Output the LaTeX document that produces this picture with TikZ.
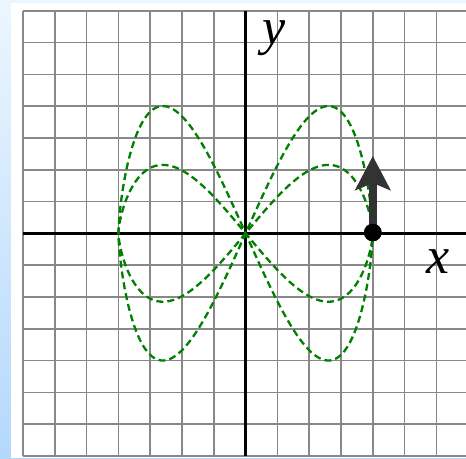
\documentclass[tikz,border=0pt]{standalone}
\usepackage{fontspec}
\setmainfont{Liberation Serif}
\usetikzlibrary{arrows.meta}
\definecolor{gridgray}{HTML}{888888}
\definecolor{curvegreen}{HTML}{008000}
\definecolor{arrowgray}{HTML}{333333}
\definecolor{bgtop}{HTML}{ECF6FE}
\definecolor{bgbot}{HTML}{B4D8FC}
\tikzset{
  gridline/.style={draw=gridgray, line width=1.6pt},
  axisline/.style={draw=black, line width=2.6pt},
  curve/.style={draw=curvegreen, line width=2.3pt, dash pattern=on 7pt off 4pt},
  axlabel/.style={font=\fontsize{52}{52}\selectfont\itshape, inner sep=0pt},
  dotnode/.style={circle, fill=black, minimum size=17.6pt, inner sep=0pt},
}
\begin{document}
\begin{tikzpicture}[x=1pt,y=-1pt]
\useasboundingbox (0,0) rectangle (466,458);
\shade[top color=bgtop, bottom color=bgbot] (0,0) rectangle (466,458);
\fill[white] (11,3) rectangle (466,458);
% grid
\foreach \i in {0,...,13} {
  \draw[gridline] ({23+31.8*\i},10.7) -- ({23+31.8*\i},455.9);
}
\foreach \j in {0,...,14} {
  \draw[gridline] (23,{10.7+31.8*\j}) -- (466,{10.7+31.8*\j});
}
% axes
\draw[axisline] (23,233.3) -- (466,233.3);
\draw[axisline] (245.6,10.7) -- (245.6,455.9);
% curves: x = 4 cos t, y = A c cos t sin t |sin t|^0.36
\draw[curve] plot[domain=0:360, samples=241, smooth] ({245.6+127.2*cos(\x)},{233.3-127.2*2.235*cos(\x)*sin(\x)*pow(abs(sin(\x))+0.00001,0.36)});
\draw[curve] plot[domain=0:360, samples=241, smooth] ({245.6+127.2*cos(\x)},{233.3-68.4*2.235*cos(\x)*sin(\x)*pow(abs(sin(\x))+0.00001,0.36)});
% labels
\node[axlabel] (xl) at (438,262) {x};
\node[axlabel] (yl) at (274,38) {y};
% arrow and dot
\coordinate (tip) at (372.8,156);
\node[dotnode] (p) at (372.8,232.5) {};
\draw[draw=arrowgray, line width=8pt, -{Stealth[length=34pt, width=35pt, inset=7pt, fill=arrowgray]}] (p.center) -- (tip);
\node[dotnode] at (p.center) {};
\end{tikzpicture}
\end{document}
